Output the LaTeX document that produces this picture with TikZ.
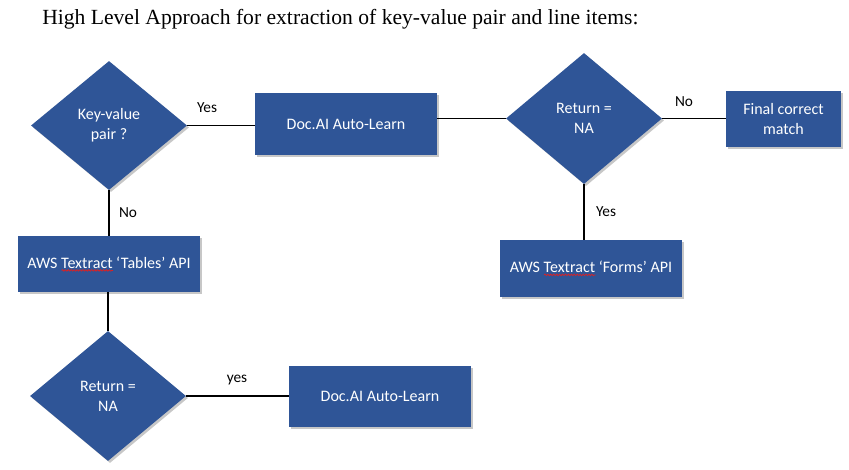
\documentclass[tikz,border=0pt]{standalone}
\usepackage{fontspec}
\setmainfont{Carlito}
\newfontfamily\titlefont{Liberation Serif}
\usetikzlibrary{shapes.geometric,shadows,decorations.pathmorphing}
\definecolor{boxblue}{HTML}{2F5597}
\definecolor{spellred}{HTML}{E02020}
\newlength\wavew
\newcommand\spellwave[1]{\settowidth\wavew{#1}\rlap{\tikz[baseline=0pt]\draw[spellred, line width=0.55pt, decorate, decoration={snake, amplitude=0.55pt, segment length=2.2pt}] (0pt,-1.8pt) -- (\wavew,-1.8pt);}#1}
\tikzset{
  shp/.style={fill=boxblue, draw=none, text=white, align=center, inner sep=0pt,
    font=\fontsize{12}{15}\selectfont,
    drop shadow={shadow xshift=1.5pt, shadow yshift=-1.5pt, fill=black, opacity=0.22}},
  boxnode/.style={shp, rectangle},
  decision/.style={shp, diamond, aspect=1},
  conn/.style={draw=black, line width=0.8pt},
  lbl/.style={font=\fontsize{11.5}{14}\selectfont, text=black, inner sep=0pt}
}
\begin{document}
\begin{tikzpicture}[x=0.75pt,y=-0.75pt]
\useasboundingbox (0,0) rectangle (849,470);
\node[anchor=west, inner sep=0pt, font=\titlefont\fontsize{16.2}{18}\selectfont] (title) at (42,19) {High Level Approach for extraction of key-value pair and line items:};

\node[decision, minimum width=117pt, minimum height=96.75pt] (d1) at (109,125.5) {Key-value\\pair ?};
\node[boxnode, minimum width=136.5pt, minimum height=46.5pt] (da1) at (346,124) {Doc.AI Auto-Learn};
\node[decision, minimum width=117pt, minimum height=98.25pt] (d2) at (584,118.5) {Return =\\NA};
\node[boxnode, minimum width=86.25pt, minimum height=42pt] (fin) at (783.5,119) {Final correct\\match};
\node[boxnode, minimum width=136.5pt, minimum height=42.75pt] (forms) at (591,268.5) {AWS \spellwave{Textract} ‘Forms’ API};
\node[boxnode, minimum width=136.5pt, minimum height=42pt] (tab) at (109,264) {AWS \spellwave{Textract} ‘Tables’ API};
\node[decision, minimum width=117pt, minimum height=97.5pt] (d3) at (108,396) {Return =\\NA};
\node[boxnode, minimum width=136.5pt, minimum height=45.75pt] (da2) at (380,396.5) {Doc.AI Auto-Learn};

\draw[conn] (d1.east) -- (d1.east -| da1.west);
\draw[conn] (d1.south) -- (d1.south |- tab.north);
\draw[conn] (d2.west -| da1.east) -- (d2.west);
\draw[conn] (d2.east) -- (d2.east -| fin.west);
\draw[conn] (d2.south) -- (d2.south |- forms.north);
\draw[conn] (d3.north |- tab.south) -- (d3.north);
\draw[conn] (d3.east) -- (d3.east -| da2.west);

\node[lbl] (l1) at (207,108) {Yes};
\node[lbl] (l2) at (128,213) {No};
\node[lbl] (l3) at (684,102) {No};
\node[lbl] (l4) at (606,212) {Yes};
\node[lbl] (l5) at (237,380) {yes};
\end{tikzpicture}
\end{document}
